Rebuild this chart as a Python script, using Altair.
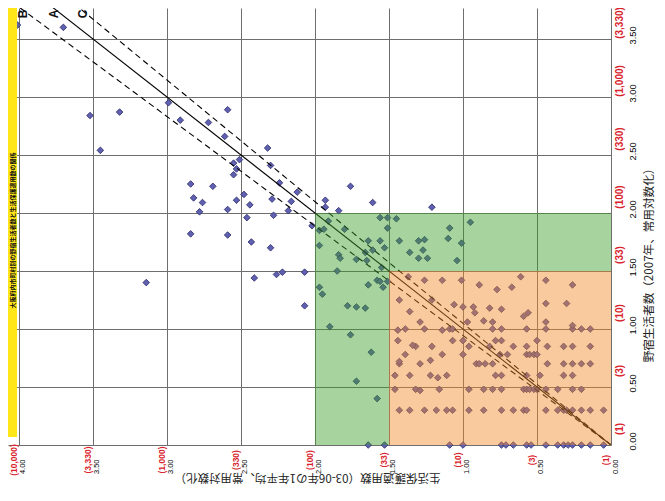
import altair as alt
import pandas as pd

# ---------------- data ----------------
# welfare cases (log10, x) and homeless counts (log10, y)
pt_x = [
    # white region
    4.01, 3.70, 3.52, 3.45, 3.32, 2.99, 2.91, 2.72, 2.59, 2.61, 3.14, 2.84, 2.82, 2.69, 2.76,
    2.78, 2.55, 2.53, 2.51, 2.55, 2.59, 2.53, 2.48, 2.44, 2.46, 2.32, 2.30, 2.24, 2.12, 2.29,
    2.16, 2.18, 2.28, 2.02, 1.93, 1.93, 1.84, 1.76, 1.61, 2.43, 2.41, 2.26, 2.22, 2.07, 2.07,
    2.84, 2.59, 2.30, 1.21,
    # green region
    1.91, 1.97, 1.94, 1.80, 1.97, 1.84, 1.83, 1.72, 1.66, 1.64, 1.61, 1.65, 1.56, 1.51, 1.51,
    1.56, 1.53, 1.55, 1.85, 1.58, 1.56, 1.54, 1.51, 1.64, 1.97, 1.95, 1.78, 1.72, 1.66, 1.45,
    1.43, 1.36, 1.30, 1.26, 1.27, 1.24, 1.30, 1.09, 1.01, 0.95, 1.04, 1.10,
    1.90, 1.76, 1.62, 1.72, 1.58, 1.64, 1.53,
    # orange region, row 1
    1.09, 1.00, 0.74, 0.71, 0.66, 0.57, 0.54, 0.44, 0.36, 0.32, 0.29, 0.26, 0.20, 0.14, 0.05,
    # row 2
    1.11, 1.07, 0.96, 0.86, 0.74, 0.66, 0.59, 0.57, 0.44, 0.36, 0.32, 0.30, 0.26, 0.20, 0.14,
    0.05, 1.43, 1.36, 1.26, 1.18,
    # row 3
    0.96, 0.86, 0.80, 0.74, 0.59, 0.57, 0.55, 0.52, 0.50, 0.44, 0.36, 0.26, 0.20, 1.46, 1.32,
    1.16,
    # row 4
    1.11, 0.78, 0.74, 0.57, 0.48, 0.32, 0.26, 1.36, 1.22,
    # row 5
    0.91, 0.89, 0.85, 0.80, 0.43, 0.32, 0.26, 0.20, 0.14, 1.43, 1.29,
    # row 6
    1.14, 1.00, 0.75, 0.70, 0.57, 0.55, 0.52, 0.50, 1.39,
    # row 7
    0.96, 0.82, 0.66, 0.57, 0.43, 0.32, 0.26, 0.14, 1.32, 1.21,
    # row 8
    1.07, 1.00, 0.78, 0.74, 0.50, 1.44,
    # row 10
    1.09, 1.07, 0.80, 0.74, 0.57, 0.44, 0.26, 0.20, 0.14, 1.39, 1.26,
    # upper rows
    1.06, 1.00, 0.93, 0.82, 0.74, 0.86, 0.80, 0.59, 0.56, 0.44, 0.44, 0.30, 0.26, 0.97, 0.92,
    1.37, 1.26, 1.14, 1.01, 0.89, 0.77, 0.67, 0.61, 0.44, 0.26,
    1.43, 1.36, 1.29, 1.21, 1.14, 1.44, 1.34, 1.22, 1.43, 1.17, 1.29, 1.46,
]
pt_y = [
    3.62, 3.60, 2.84, 2.54, 2.87, 2.95, 2.80, 2.78, 2.89, 2.66, 1.40, 2.25, 2.13, 2.23, 2.09,
    2.01, 2.43, 2.38, 2.46, 2.33, 2.03, 2.11, 2.16, 2.07, 1.96, 2.56, 2.41, 2.26, 2.18, 2.12,
    2.10, 2.02, 1.98, 1.89, 2.11, 2.05, 2.02, 2.23, 2.09, 1.75, 1.44, 1.47, 1.49, 1.49, 1.20,
    1.82, 1.81, 1.70, 2.05,
    1.93, 1.85, 1.86, 1.86, 1.72, 1.64, 1.61, 1.60, 1.66, 1.76, 1.68, 1.59, 1.96, 1.96, 1.87,
    1.76, 1.70, 1.53, 1.50, 1.42, 1.41, 1.36, 1.41, 1.38, 1.36, 1.30, 1.20, 1.19, 1.18, 1.95,
    1.76, 1.66, 1.76, 1.77, 1.68, 1.61, 1.61, 1.87, 1.74, 1.92, 1.59, 1.78,
    1.02, 0.95, 0.80, 0.55, 0.40, 0.00, 0.00,
    0.00, 0.00, 0.00, 0.00, 0.00, 0.00, 0.00, 0.00, 0.00, 0.00, 0.00, 0.00, 0.00, 0.00, 0.00,
    0.30, 0.30, 0.30, 0.30, 0.30, 0.30, 0.30, 0.30, 0.30, 0.30, 0.30, 0.30, 0.30, 0.30, 0.30,
    0.30, 0.30, 0.30, 0.30, 0.30,
    0.48, 0.48, 0.48, 0.48, 0.48, 0.48, 0.48, 0.48, 0.48, 0.48, 0.48, 0.48, 0.48, 0.48, 0.48,
    0.48,
    0.60, 0.60, 0.60, 0.60, 0.60, 0.60, 0.60, 0.60, 0.60,
    0.70, 0.70, 0.70, 0.70, 0.70, 0.70, 0.70, 0.70, 0.70, 0.70, 0.70,
    0.78, 0.78, 0.78, 0.78, 0.78, 0.78, 0.78, 0.78, 0.78,
    0.85, 0.85, 0.85, 0.85, 0.85, 0.85, 0.85, 0.85, 0.85, 0.85,
    0.90, 0.90, 0.90, 0.90, 0.90, 0.90,
    1.00, 1.00, 1.00, 1.00, 1.00, 1.00, 1.00, 1.00, 1.00, 1.00, 1.00,
    1.21, 1.19, 1.19, 1.18, 1.17, 1.07, 1.06, 1.11, 1.14, 1.06, 1.22, 1.22, 1.03, 1.06, 1.14,
    1.45, 1.42, 1.42, 1.42, 1.38, 1.34, 1.36, 1.45, 1.42, 1.38,
    1.25, 1.15, 1.06, 1.25, 0.99, 0.99, 0.86, 0.73, 0.72, 0.58, 0.47, 0.60,
]

# reference lines A (solid), B and C (dashed): end points
line_name = ["A", "A", "B", "B", "C", "C"]
line_x = [0.0, 4.10, 0.0, 4.10, 0.0, 4.10]
line_y = [0.0, 4.10, 0.0, 3.87, 0.0, 4.30]
line_dash = ["solid", "solid", "dash", "dash", "dash", "dash"]

lab_names = ["A", "B", "C"]
lab_x = [3.76, 3.97, 3.57]

# shaded zones
zone_x = [1.5, 0.0, 0.0]
zone_x2 = [2.0, 1.5, 1.5]
zone_y = [0.0, 1.5, 0.0]
zone_y2 = [2.0, 2.0, 1.5]
zone_kind = ["green", "green", "orange"]

x_ticks = [0.0, 0.5, 1.0, 1.5, 2.0, 2.5, 3.0, 3.5, 4.0]
x_red = ["(1)", "(3)", "(10)", "(33)", "(100)", "(330)", "(1,000)", "(3,330)", "(10,000)"]
y_ticks = [0.0, 0.5, 1.0, 1.5, 2.0, 2.5, 3.0, 3.5]
y_red = ["(1)", "(3)", "(10)", "(33)", "(100)", "(330)", "(1,000)", "(3,330)"]

title_text = "大阪府内市町村別の野宿生活者数と生活保護適用数の関係"

# ---------------- chart ----------------
W, H = 603, 437
XMAX, YMAX = 4.074, 3.767
RED = "#d8232c"
NUMFONT = "Liberation Sans"
JPFONT = "Noto Sans CJK JP"

pts = pd.DataFrame({"X": pt_x, "Y": pt_y})
lines = pd.DataFrame({"name": line_name, "X": line_x, "Y": line_y, "dash": line_dash})
labs = pd.DataFrame({"name": lab_names, "X": lab_x})
zones = pd.DataFrame({"X": zone_x, "X2": zone_x2, "Y": zone_y, "Y2": zone_y2, "kind": zone_kind})
xr = pd.DataFrame({"X": x_ticks, "lab": x_red})
yr = pd.DataFrame({"Y": y_ticks, "lab": y_red})
band = pd.DataFrame({"X": [4.013], "X2": [XMAX], "Y": [0.07], "Y2": [YMAX]})
ttl = pd.DataFrame({"X": [4.040], "Y": [1.85], "t": [title_text]})

x_scale = alt.Scale(domain=[0, XMAX], reverse=True, nice=False, zero=False)
y_scale = alt.Scale(domain=[0, YMAX], nice=False, zero=False)

x_axis = alt.Axis(
    values=x_ticks, format=".2f", orient="bottom", grid=True, gridColor="#6e6e6e",
    gridWidth=1, domain=False, ticks=False, tickSize=0, labelAngle=270,
    labelAlign="right", labelBaseline="middle", labelPadding=14, labelOffset=4,
    labelFont=NUMFONT, labelFontSize=7.5, labelColor="#000000", labelFlush=False,
    labelOverlap=False, labelBound=False,
    title="生活保護適用数（03-06年の1年平均、常用対数化）", titleAngle=180,
    titleX=299, titleY=31, titleAlign="center", titleBaseline="middle",
    titleFont=JPFONT, titleFontSize=11.5, titleFontWeight="normal", titleColor="#222222",
)
y_axis = alt.Axis(
    values=y_ticks, format=".2f", orient="right", grid=True, gridColor="#6e6e6e",
    gridWidth=1, domain=False, ticks=False, tickSize=0, labelAngle=270,
    labelAlign="center", labelBaseline="middle", labelPadding=21, labelOffset=-4,
    labelFont=NUMFONT, labelFontSize=9.3, labelColor="#000000", labelFlush=False,
    labelOverlap=False, labelBound=False,
    title="野宿生活者数（2007年、常用対数化）", titleAngle=270,
    titleX=38, titleY=254, titleAlign="center", titleBaseline="middle",
    titleFont=JPFONT, titleFontSize=11.6, titleFontWeight="normal", titleColor="#222222",
)

def X(field="X"):
    return alt.X(f"{field}:Q", scale=x_scale, axis=x_axis)

def Y(field="Y"):
    return alt.Y(f"{field}:Q", scale=y_scale, axis=y_axis)

points = alt.Chart(pts).mark_point(
    shape="diamond", filled=True, size=44, fill="#6060b0", stroke="#2a2a6a",
    strokeWidth=0.8, opacity=1,
).encode(x=X(), y=Y())

line_a = alt.Chart(lines).transform_filter(alt.datum.dash == "solid").mark_line(
    clip=True, color="#000000", strokeWidth=1.1
).encode(x=X(), y=Y(), detail="name:N")

line_bc = alt.Chart(lines).transform_filter(alt.datum.dash == "dash").mark_line(
    clip=True, color="#000000", strokeWidth=1.1, strokeDash=[6, 4]
).encode(x=X(), y=Y(), detail="name:N")

zone_layer = alt.Chart(zones).mark_rect(opacity=0.45).encode(
    x=X(), x2="X2:Q", y=Y(), y2="Y2:Q",
    color=alt.Color("kind:N", scale=alt.Scale(domain=["green", "orange"],
                                             range=["#3c9e2a", "#f28a26"]), legend=None),
)

band_layer = alt.Chart(band).mark_rect(color="#ffe619", clip=True).encode(
    x=X(), x2="X2:Q", y=Y(), y2="Y2:Q"
)

title_layer = alt.Chart(ttl).mark_text(
    angle=270, fontSize=6, fontWeight="bold", font=JPFONT, color="#111111",
    align="center", baseline="middle",
).encode(x=X(), y=Y(), text="t:N")

abc = alt.Chart(labs).mark_text(
    angle=270, fontSize=12, fontWeight="bold", font=NUMFONT, color="#111111",
    align="center", baseline="middle",
).encode(x=X(), y=alt.value(6), text="name:N")

x_red_layer = alt.Chart(xr).mark_text(
    angle=270, fontSize=8.5, fontWeight="bold", font=NUMFONT, color=RED,
    align="center", baseline="middle", dy=-5,
).encode(x=X(), y=alt.value(H + 15), text="lab:N")

y_red_layer = alt.Chart(yr).mark_text(
    angle=270, fontSize=10, fontWeight="bold", font=NUMFONT, color=RED,
    align="center", baseline="middle", dx=16,
).encode(y=Y(), x=alt.value(W + 9), text="lab:N")

chart = alt.layer(
    points, line_a, line_bc, zone_layer, band_layer, title_layer, abc, x_red_layer, y_red_layer
).properties(
    width=W, height=H,
    autosize=alt.AutoSizeParams(type="none"),
    padding={"left": 0, "top": 0, "right": 46, "bottom": 41},
    background="#ffffff",
).configure_view(stroke=None)

chart.save("out.html", embed_options={"renderer": "svg", "actions": False})
